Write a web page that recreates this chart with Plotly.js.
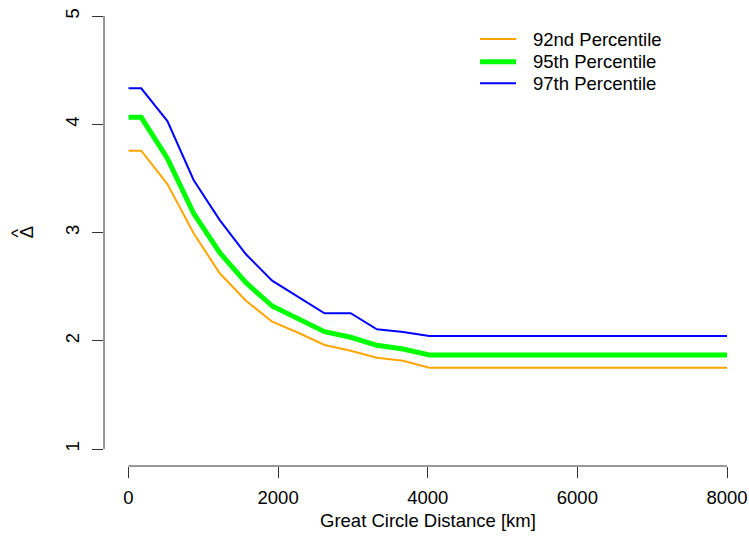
<!DOCTYPE html>
<html>
<head>
<meta charset="utf-8">
<script src="https://cdn.plot.ly/plotly-3.0.1.min.js"></script>
<style>html,body{margin:0;padding:0;background:#fff;} #chart{width:749px;height:556px;}</style>
</head>
<body>
<div id="chart"></div>
<script>
const distance = [0, 170, 520, 870, 1220, 1570, 1920, 2270, 2620, 2970, 3320, 3670, 4020, 8000];
const p92 = [3.756, 3.756, 3.448, 2.993, 2.623, 2.370, 2.176, 2.074, 1.961, 1.908, 1.843, 1.816, 1.751, 1.751];
const p95 = [4.064, 4.064, 3.685, 3.177, 2.813, 2.536, 2.321, 2.204, 2.084, 2.032, 1.958, 1.924, 1.868, 1.868];
const p97 = [4.332, 4.332, 4.030, 3.485, 3.115, 2.799, 2.555, 2.404, 2.254, 2.254, 2.106, 2.081, 2.044, 2.044];
const seriesNames = ["92nd Percentile", "95th Percentile", "97th Percentile"];
const seriesColors = ["#FFA500", "#00FF00", "#0000FF"];
const seriesWidths = [2, 5, 2];
const xTicks = [0, 2000, 4000, 6000, 8000];
const yTicks = [1, 2, 3, 4, 5];

const FONT = "Liberation Sans, Arial, Helvetica, sans-serif";
const FS = 18.5;
const values = [p92, p95, p97];
const traces = values.map((v, i) => ({
  x: distance, y: v, name: seriesNames[i], mode: "lines", showlegend: false,
  line: {color: seriesColors[i], width: seriesWidths[i]}
}));

// manual R-style legend (paper coordinates)
const legRows = [0.9163, 0.8676, 0.8212];
const shapes = [
  {type: "line", xref: "x", yref: "paper", x0: xTicks[0], x1: xTicks[xTicks.length - 1], y0: 0, y1: 0,
   line: {color: "#333", width: 1}},
  {type: "line", xref: "paper", yref: "y", x0: 0, x1: 0, y0: yTicks[0], y1: yTicks[yTicks.length - 1],
   line: {color: "#333", width: 1}}
];
const annotations = [
  {text: "Great Circle Distance [km]", xref: "x", yref: "paper", x: 4000, y: -0.1159,
   xanchor: "center", yanchor: "middle", showarrow: false, font: {family: FONT, size: FS, color: "#000"}},
  // y-axis title: hat(Delta)
  {text: "Δ", xref: "paper", yref: "y", x: -0.1225, y: 3, textangle: -90,
   xanchor: "center", yanchor: "middle", showarrow: false, font: {family: FONT, size: FS, color: "#000"}},
  {text: "^", xref: "paper", yref: "y", x: -0.1363, y: 3, textangle: -90,
   xanchor: "center", yanchor: "middle", showarrow: false, font: {family: FONT, size: FS, color: "#000"}}
];
seriesNames.forEach((name, i) => {
  shapes.push({type: "line", xref: "paper", yref: "paper", x0: 0.5959, x1: 0.6529, y0: legRows[i], y1: legRows[i],
               line: {color: seriesColors[i], width: seriesWidths[i]}});
  annotations.push({text: name, xref: "paper", yref: "paper", x: 0.6763, y: legRows[i],
                    xanchor: "left", yanchor: "middle", showarrow: false,
                    font: {family: FONT, size: FS, color: "#000"}});
});

const layout = {
  width: 749, height: 556,
  margin: {l: 104, r: 14, t: 0, b: 90},
  paper_bgcolor: "#fff", plot_bgcolor: "#fff",
  font: {family: FONT, size: FS, color: "#000"},
  showlegend: false,
  xaxis: {
    range: [-327.5, 8107], tickvals: xTicks, ticktext: xTicks.map(String),
    ticks: "outside", ticklen: 11, tickwidth: 1, tickcolor: "#333",
    showline: false, showgrid: false, zeroline: false,
    ticklabelstandoff: 4
  },
  yaxis: {
    range: [0.843, 5.1478], tickvals: yTicks, ticktext: yTicks.map(String),
    ticks: "outside", ticklen: 11, tickwidth: 1, tickcolor: "#333",
    tickangle: -90,
    showline: false, showgrid: false, zeroline: false,
    ticklabelstandoff: 6
  },
  shapes: shapes,
  annotations: annotations
};
Plotly.newPlot("chart", traces, layout, {staticPlot: true, displayModeBar: false});
</script>
</body>
</html>
